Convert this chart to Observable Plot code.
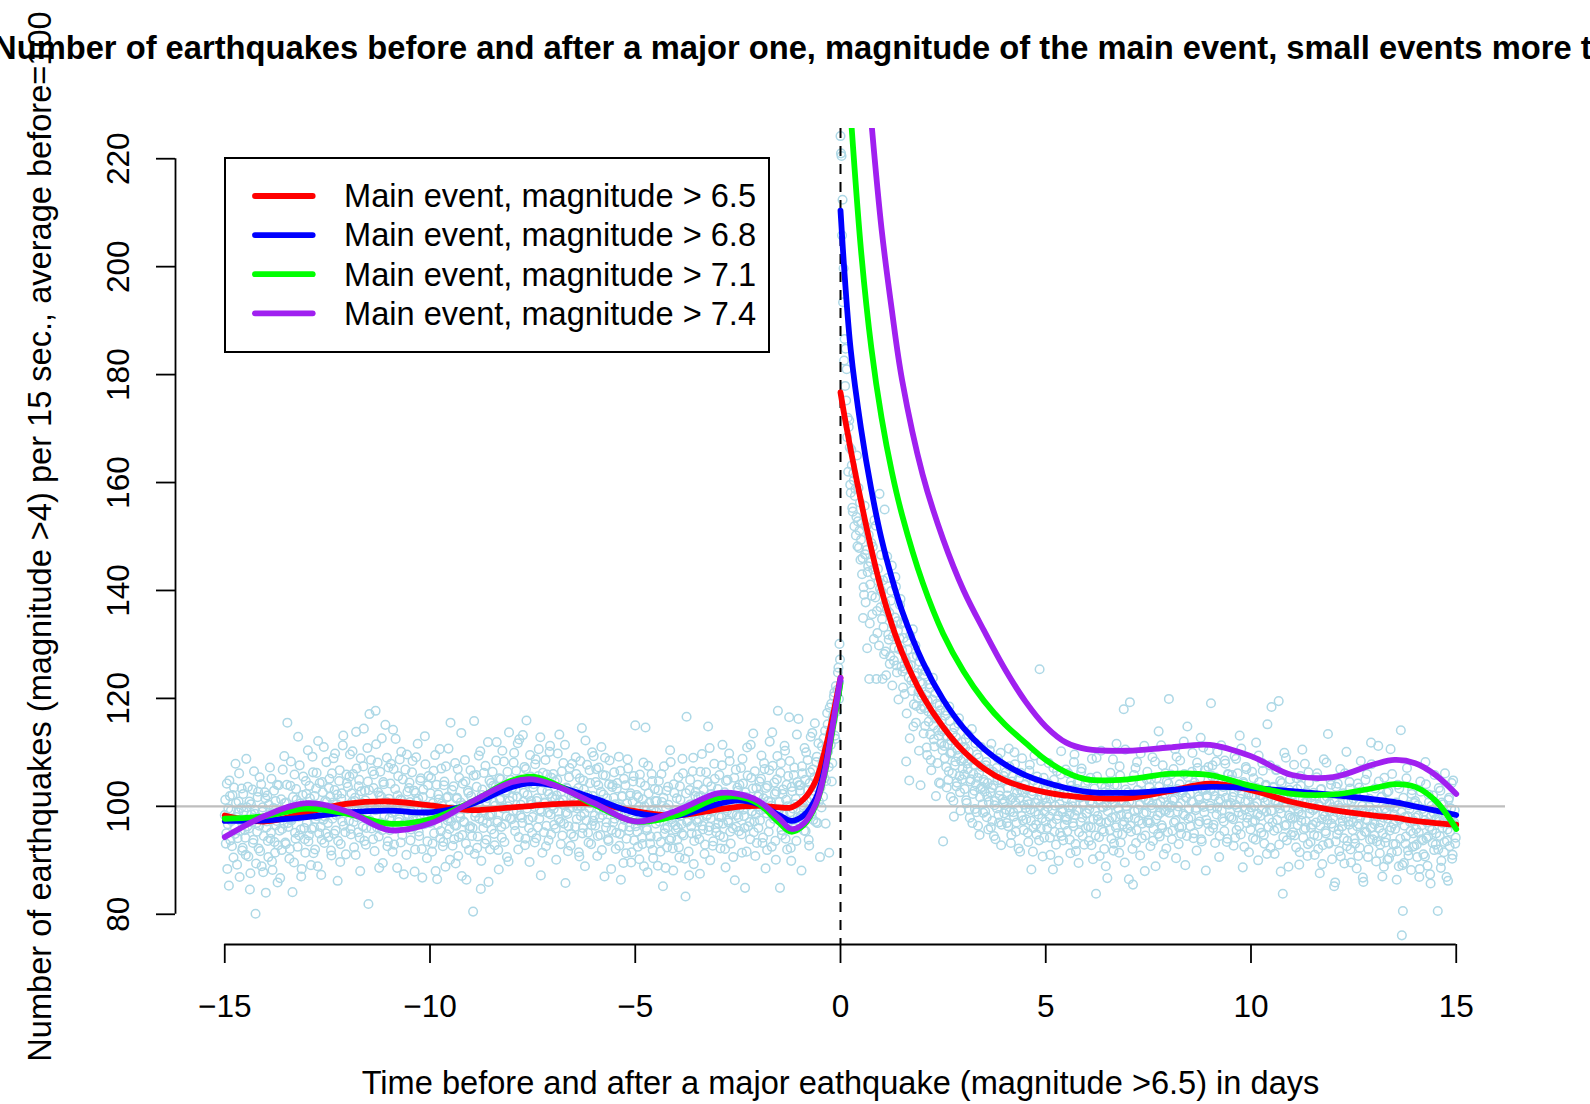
<!DOCTYPE html>
<html>
<head>
<meta charset="utf-8">
<script src="https://cdn.jsdelivr.net/npm/d3@7"></script>
<script src="https://cdn.jsdelivr.net/npm/@observablehq/plot@0.6"></script>
<style>
  html, body { margin: 0; padding: 0; background: #fff; }
  #page { position: relative; width: 1590px; height: 1104px; overflow: hidden; background: #fff;
          font-family: "Liberation Sans", Arial, Helvetica, sans-serif; color: #000; }
  #title { position: absolute; top: 0; left: 0; width: 1590px; height: 96px; }
  #title span { position: absolute; top: 31px; left: 835px; transform: translateX(-50%);
                white-space: nowrap; font-weight: bold; font-size: 32.7px; line-height: 33px; }
  #chart { position: absolute; top: 96px; left: 0; }
  #legend { position: absolute; left: 224px; top: 157px; }
</style>
</head>
<body>
<div id="page">
  <div id="title"><span></span></div>
  <div id="chart"></div>
  <div id="legend"></div>
</div>
<script>
// ---- Texts ----
const titleText = "Number of earthquakes before and after a major one, magnitude of the main event, small events more than 4";
const xTitle = "Time before and after a major eathquake (magnitude >6.5) in days";
const yTitle = "Number of earthquakes (magnitude >4) per 15 sec., average before=100";

// ---- Axes ----
const xTicks = [-15, -10, -5, 0, 5, 10, 15];
const yTicks = [80, 100, 120, 140, 160, 180, 200, 220];

// ---- Series ----
const seriesLabels = [
  "Main event, magnitude > 6.5",
  "Main event, magnitude > 6.8",
  "Main event, magnitude > 7.1",
  "Main event, magnitude > 7.4"
];
const seriesColors = ["#FF0000", "#0000FF", "#00FF00", "#A020F0"];

// Smoothed fits before the main event (days -15 .. 0)
const knotDaysBefore = [-15, -14, -13, -12, -11, -10, -9, -8, -7.5, -7, -6, -5, -4, -3, -2.5, -2, -1.5, -1.2, -0.9, -0.6, -0.4, -0.2, 0];
const fitBefore65 = [98.3, 97.2, 98.9, 100.5, 100.9, 100.2, 99.3, 99.8, 100.1, 100.4, 100.5, 99.1, 98.3, 99.4, 99.9, 100.1, 99.8, 99.8, 101.3, 104.8, 109.8, 116.3, 123.8];
const fitBefore68 = [97.3, 97.4, 98.0, 98.9, 99.2, 98.9, 100.4, 103.6, 104.3, 103.9, 101.5, 98.8, 98.2, 100.4, 101.1, 100.4, 98.4, 97.3, 98.3, 101.5, 106.5, 114.5, 123.2];
const fitBefore71 = [97.7, 98.2, 99.6, 98.6, 96.8, 97.6, 100.8, 104.8, 105.5, 104.3, 100.3, 97.2, 98.3, 101.5, 101.8, 100.5, 97.0, 95.3, 96.5, 100.3, 105.5, 113.8, 122.8];
const fitBefore74 = [94.3, 98.3, 100.6, 99.0, 95.6, 96.8, 100.8, 104.5, 105.0, 104.0, 100.6, 97.2, 99.2, 102.4, 102.3, 101.0, 97.8, 95.8, 96.8, 100.5, 105.8, 114.5, 123.8];

// Smoothed fits after the main event (days 0 .. 15); the steepest ones start above the plotted range
const knotDaysAfter = [0, 0.1, 0.25, 0.5, 0.75, 1, 1.25, 1.5, 2, 2.5, 3, 3.5, 4, 4.5, 5, 5.5, 6, 7, 8, 9, 10, 11, 12, 13, 13.5, 14, 14.5, 15];
const fitAfter65 = [176.7, 172.2, 166.0, 156.5, 147.7, 140.0, 133.7, 128.5, 120.5, 114.7, 110.2, 107.0, 104.8, 103.5, 102.6, 102.0, 101.6, 101.5, 102.8, 104.2, 103.0, 100.8, 99.3, 98.3, 97.9, 97.3, 96.9, 96.6];
const fitAfter68 = [210.4, 198.5, 184.5, 170.0, 158.7, 149.5, 142.3, 136.2, 126.8, 119.8, 114.5, 110.6, 107.8, 105.8, 104.4, 103.4, 102.7, 102.5, 103.0, 103.6, 103.4, 102.8, 102.1, 101.3, 100.8, 100.0, 99.2, 98.4];
const fitAfter71 = [256, 244, 228, 203, 185, 172, 162, 154, 141.5, 132, 125, 119.5, 115.2, 111.8, 108.6, 106.3, 105.0, 105.0, 106.0, 105.8, 103.8, 102.3, 102.2, 103.4, 104.1, 103.6, 101.0, 95.8];
const fitAfter74 = [315, 300, 280, 250, 227, 207, 192, 179, 161.5, 149.5, 140, 132.5, 125.5, 119.5, 114.8, 111.8, 110.6, 110.3, 110.9, 111.4, 109.3, 105.8, 105.4, 107.8, 108.6, 108.0, 105.8, 102.3];

// ---- Observed counts per time bin ----
const binWidth = 0.025; // days between bins of one set; the "Mid" sets sit half a bin later
// Bins from day -15 up to the main event
const countsBefore = [
  98.4, 93.1, 104.2, 96.7, 85.3, 101.9, 99.2, 92.6, 97.8, 103.5, 94.9, 100.6, 89.2, 98.9, 106.1, 95.4, 99.7, 91.8, 102.3, 97.1,
  94.2, 108.8, 96.3, 90.7, 100.9, 87.6, 98.5, 103.1, 93.8, 99.4, 80.1, 96.9, 101.7, 92.2, 105.4, 97.6, 88.9, 99.8, 94.5, 102.6,
  84.0, 97.2, 93.6, 100.3, 107.2, 95.1, 89.8, 98.7, 102.9, 91.4, 96.5, 104.0, 92.8, 99.1, 86.7, 101.3, 95.8, 97.9, 109.3, 93.3,
  100.7, 115.5, 96.2, 90.3, 103.8, 97.4, 84.1, 99.6, 105.9, 94.0, 101.2, 92.5, 98.1, 107.6, 95.7, 88.4, 102.1, 99.3, 93.9, 104.7,
  97.0, 110.4, 94.6, 101.5, 89.1, 99.9, 106.3, 96.1, 92.0, 103.3, 98.2, 112.1, 95.0, 100.1, 87.3, 104.5, 97.5, 93.2, 101.0, 108.2,
  99.0, 94.3, 105.1, 101.8, 90.9, 97.7, 108.9, 103.0, 95.5, 100.4, 86.2, 98.6, 106.7, 93.0, 102.4, 111.3, 96.4, 99.5, 91.1, 104.3,
  103.6, 97.3, 109.6, 94.8, 100.8, 106.0, 92.4, 101.6, 113.8, 98.0, 95.2, 104.9, 88.0, 102.8, 99.8, 107.4, 93.6, 101.1, 96.0, 110.8,
  81.9, 117.1, 100.2, 95.9, 106.5, 103.4, 91.7, 117.7, 99.4, 108.1, 94.4, 102.0, 97.0, 112.6, 89.5, 104.1, 100.5, 96.6, 109.0, 93.5,
  101.4, 95.6, 107.9, 98.8, 114.2, 92.9, 103.2, 99.6, 88.6, 105.6, 97.6, 101.3, 110.1, 94.7, 100.0, 96.8, 106.8, 91.0, 102.7, 98.3,
  104.4, 93.7, 99.0, 108.4, 96.2, 87.9, 102.5, 100.9, 111.6, 95.3, 98.4, 105.2, 92.1, 101.7, 97.1, 113.0, 99.7, 90.4, 103.9, 96.9,
  98.9, 105.3, 91.6, 100.6, 95.0, 109.5, 97.9, 86.5, 102.2, 99.3, 94.1, 107.0, 100.1, 93.4, 104.6, 88.8, 101.6, 97.4, 110.7, 95.8,
  115.5, 99.5, 92.7, 103.7, 96.5, 89.4, 101.4, 106.9, 94.3, 98.7, 100.7, 87.1, 104.2, 97.2, 108.6, 93.1, 99.9, 102.9, 91.9, 96.3,
  101.9, 94.5, 80.5, 115.8, 98.1, 105.8, 92.3, 100.3, 97.7, 110.2, 89.9, 103.1, 96.0, 99.2, 107.5, 93.8, 101.5, 86.0, 104.8, 98.5,
  95.7, 106.4, 100.8, 92.8, 103.6, 111.9, 97.3, 88.3, 101.2, 105.0, 94.2, 99.6, 108.3, 96.7, 102.6, 90.6, 100.0, 113.7, 97.8, 104.0,
  103.4, 99.1, 109.9, 95.4, 106.6, 101.8, 92.0, 112.4, 98.3, 104.7, 96.9, 100.9, 107.3, 94.0, 115.9, 102.1, 97.5, 89.7, 105.5, 100.4,
  98.0, 104.1, 93.3, 108.7, 101.0, 96.1, 110.6, 99.4, 87.2, 103.0, 106.2, 95.2, 100.6, 92.6, 105.9, 98.8, 102.3, 111.2, 94.8, 101.7,
  106.0, 96.6, 101.3, 90.1, 104.9, 99.0, 113.3, 97.1, 102.7, 94.6, 108.0, 100.2, 85.8, 103.5, 98.6, 96.3, 107.1, 92.7, 101.9, 99.8,
  94.4, 102.8, 109.1, 97.6, 100.1, 91.5, 105.2, 98.2, 114.5, 96.0, 103.1, 88.9, 101.4, 107.7, 95.1, 99.7, 104.3, 93.0, 110.0, 97.3,
  101.0, 96.4, 106.9, 90.8, 103.9, 99.4, 94.7, 111.0, 98.4, 102.2, 87.0, 105.7, 97.0, 100.3, 93.6, 108.5, 99.1, 95.6, 104.0, 101.6,
  97.7, 92.1, 103.3, 99.9, 109.2, 94.9, 86.4, 101.8, 96.2, 105.1, 98.8, 91.3, 100.5, 107.0, 95.5, 102.0, 89.6, 98.1, 104.6, 93.7,
  115.0, 99.2, 95.3, 101.7, 90.2, 104.4, 97.2, 93.0, 108.1, 100.0, 114.6, 96.0, 87.8, 102.4, 98.6, 94.4, 106.0, 91.9, 99.5, 103.2,
  96.8, 101.0, 89.0, 104.7, 97.9, 93.4, 100.8, 85.2, 107.4, 95.8, 99.7, 92.4, 103.6, 98.0, 110.4, 94.1, 97.0, 88.1, 102.5, 96.5,
  99.3, 93.8, 105.4, 90.5, 101.2, 96.7, 108.8, 94.6, 98.9, 83.3, 116.6, 97.4, 91.6, 103.0, 100.4, 95.0, 106.5, 89.3, 99.9, 102.7,
  94.8, 104.0, 97.6, 87.5, 101.9, 109.7, 95.7, 100.2, 92.9, 106.3, 98.5, 114.8, 96.2, 90.0, 103.7, 99.0, 93.5, 107.9, 101.1, 95.2,
  100.7, 96.9, 105.8, 92.2, 98.0, 111.4, 94.3, 102.6, 88.7, 99.6, 104.9, 97.0, 108.4, 93.1, 101.3, 95.9, 100.0, 86.3, 106.8, 98.4,
  102.9, 95.4, 99.8, 107.1, 91.4, 104.2, 98.2, 84.9, 101.7, 110.9, 96.3, 100.5, 93.9, 105.3, 99.1, 113.5, 97.2, 90.8, 103.4, 100.0,
  96.0, 104.6, 99.3, 109.4, 93.2, 101.5, 106.9, 88.5, 98.7, 103.8, 95.3, 112.0, 100.8, 92.5, 107.5, 97.7, 102.3, 90.1, 105.0, 117.7,
  99.4, 84.9, 108.0, 94.7, 103.1, 97.5, 110.3, 101.2, 92.0, 105.6, 116.5, 98.9, 89.9, 102.8, 96.2, 107.2, 100.4, 93.6, 104.5, 116.2,
  97.8, 103.9, 88.1, 106.1, 99.7, 110.8, 95.4, 101.0, 108.6, 93.8, 104.3, 112.9, 98.6, 106.8, 102.0, 115.4, 97.1, 109.2, 103.5, 100.9,
  90.6, 106.3, 111.1, 101.8, 108.9, 114.0, 104.7, 117.3, 110.2, 91.4, 113.6, 119.0, 108.0, 116.8, 121.1, 112.5, 118.9, 121.6, 125.7, 130.1
];
const countsBeforeMid = [
  101.2, 95.0, 88.4, 99.6, 104.8, 93.7, 97.3, 102.1, 90.5, 96.2, 107.9, 98.0, 94.1, 100.9, 86.9, 97.5, 103.3, 92.3, 99.1, 95.6,
  91.0, 99.8, 103.6, 95.9, 84.6, 100.4, 97.0, 93.2, 106.5, 98.6, 89.4, 95.3, 102.7, 96.4, 91.7, 104.1, 99.0, 87.8, 97.7, 101.5,
  96.1, 102.0, 90.6, 98.4, 94.0, 105.1, 88.2, 99.7, 93.4, 101.0, 97.3, 85.9, 103.9, 95.5, 99.2, 91.9, 106.8, 96.8, 100.6, 93.0,
  104.0, 96.9, 99.5, 92.1, 108.3, 97.8, 101.7, 89.6, 95.1, 103.2, 98.7, 112.9, 94.6, 100.5, 87.0, 99.4, 105.5, 96.0, 91.4, 102.3,
  98.5, 93.5, 103.8, 100.2, 95.8, 109.2, 91.3, 101.9, 97.6, 106.2, 88.9, 99.8, 104.3, 96.2, 93.8, 102.6, 111.0, 98.1, 95.0, 100.8,
  96.9, 103.4, 99.9, 91.8, 106.1, 100.7, 94.9, 109.8, 98.4, 102.2, 93.6, 104.7, 89.7, 101.4, 97.2, 113.1, 99.4, 95.2, 105.9, 100.2,
  99.6, 105.5, 95.8, 102.4, 110.2, 97.1, 101.0, 91.0, 107.0, 99.1, 103.7, 94.2, 108.9, 100.6, 96.3, 114.4, 102.9, 92.9, 98.8, 104.6,
  103.0, 97.4, 108.6, 100.0, 93.9, 105.9, 99.3, 111.5, 96.1, 102.6, 88.6, 106.4, 101.8, 95.6, 104.5, 98.2, 115.1, 100.8, 92.6, 107.2,
  97.8, 104.2, 100.4, 91.6, 106.9, 99.0, 112.5, 95.9, 102.0, 97.1, 108.7, 93.3, 101.1, 105.0, 87.4, 100.3, 96.5, 109.6, 98.6, 103.4,
  100.8, 95.7, 106.3, 98.2, 102.9, 92.0, 109.1, 97.5, 101.4, 94.5, 104.8, 99.2, 86.8, 103.1, 96.7, 107.8, 100.0, 93.5, 105.6, 98.9,
  102.4, 97.0, 93.1, 106.6, 99.8, 88.0, 104.0, 96.6, 101.3, 110.6, 95.4, 100.5, 92.6, 103.9, 98.1, 107.4, 94.8, 101.8, 97.8, 90.1,
  97.2, 103.0, 99.1, 93.9, 108.0, 96.4, 101.6, 90.8, 105.3, 98.0, 113.6, 94.7, 100.2, 97.0, 104.6, 86.4, 99.5, 102.5, 95.9, 106.7,
  100.5, 96.0, 105.7, 91.2, 98.8, 103.6, 94.4, 109.4, 99.9, 84.7, 102.1, 97.3, 106.2, 93.1, 100.8, 96.9, 111.9, 98.2, 92.0, 104.3,
  98.6, 103.8, 94.9, 100.1, 108.5, 97.0, 91.9, 105.2, 101.5, 96.2, 110.3, 99.7, 93.4, 102.9, 98.1, 106.4, 89.8, 101.0, 104.9, 97.6,
  101.7, 108.1, 96.5, 103.0, 99.2, 111.7, 94.3, 105.0, 100.3, 97.9, 113.2, 102.5, 92.8, 106.9, 99.6, 104.2, 96.0, 109.5, 101.0, 95.1,
  103.5, 99.9, 107.8, 94.1, 101.5, 105.6, 97.7, 112.8, 99.0, 91.4, 104.4, 100.7, 108.6, 96.4, 102.8, 93.7, 110.1, 98.5, 105.3, 100.1,
  99.5, 104.6, 95.9, 102.0, 109.8, 97.6, 100.8, 93.0, 106.5, 101.2, 96.8, 111.4, 98.9, 103.3, 91.7, 105.4, 99.7, 94.9, 107.9, 102.4,
  101.3, 96.2, 106.0, 99.6, 103.4, 90.7, 108.4, 100.0, 95.0, 104.8, 98.7, 112.2, 97.4, 102.1, 93.3, 106.7, 100.6, 96.5, 101.9, 109.3,
  98.3, 104.5, 100.9, 94.5, 107.2, 97.9, 102.7, 91.9, 105.8, 99.3, 109.0, 96.1, 101.5, 93.9, 104.1, 100.2, 88.4, 103.6, 97.0, 106.3,
  100.4, 95.1, 104.3, 98.5, 92.7, 106.6, 99.8, 101.9, 89.5, 97.5, 103.9, 94.0, 108.7, 99.1, 96.2, 102.4, 91.5, 100.9, 105.6, 97.4,
  96.3, 102.1, 92.5, 99.9, 105.9, 97.0, 94.2, 101.3, 88.9, 103.8, 98.4, 95.6, 107.5, 100.6, 93.1, 99.2, 104.7, 90.4, 97.8, 101.0,
  99.0, 94.4, 103.0, 97.2, 91.6, 106.0, 98.4, 101.6, 95.0, 88.6, 102.9, 96.1, 100.3, 93.7, 108.2, 97.6, 92.2, 104.1, 99.3, 95.7,
  101.5, 96.0, 92.4, 103.7, 98.2, 94.9, 106.1, 99.5, 90.3, 102.4, 97.1, 100.0, 87.2, 104.9, 96.3, 98.8, 109.0, 93.6, 101.9, 97.5,
  97.1, 101.7, 93.9, 106.4, 99.0, 96.4, 103.1, 91.2, 100.6, 98.2, 104.5, 95.5, 110.8, 97.8, 102.3, 92.7, 99.6, 105.1, 96.0, 100.9,
  103.2, 98.1, 94.6, 101.1, 107.6, 96.8, 100.4, 92.1, 104.7, 99.2, 97.4, 109.8, 95.3, 102.0, 98.6, 90.6, 105.3, 100.8, 96.2, 103.5,
  98.0, 104.0, 100.9, 94.8, 108.8, 99.4, 96.0, 102.6, 91.6, 105.7, 100.2, 97.1, 111.4, 99.0, 103.3, 95.2, 106.5, 98.5, 93.2, 101.8,
  102.2, 97.4, 105.1, 100.6, 94.2, 108.0, 99.5, 103.4, 91.9, 101.0, 106.7, 96.8, 100.1, 113.7, 98.2, 104.4, 93.6, 102.7, 109.3, 99.0,
  100.8, 106.2, 95.6, 102.3, 98.5, 111.2, 94.0, 104.0, 100.0, 97.2, 108.4, 92.3, 103.6, 99.6, 105.8, 96.0, 101.4, 113.3, 98.0, 103.9,
  102.9, 98.3, 107.4, 100.2, 95.5, 104.9, 110.0, 99.0, 103.0, 92.7, 106.3, 101.4, 113.6, 97.5, 105.4, 100.5, 108.2, 96.9, 111.7, 104.0,
  103.5, 99.8, 108.1, 112.6, 105.2, 96.8, 110.7, 115.2, 107.3, 118.3, 111.4, 104.6, 116.0, 120.4, 113.1, 122.3, 117.6, 124.8, 119.9, 127.2
];
// Bins from the main event up to day 15
const countsAfter = [
  224.2, 220.5, 212.4, 199.7, 186.6, 184.8, 181.0, 172.0, 170.3, 166.5, 158.1, 163.2, 154.6, 160.4, 157.5, 150.2, 165.0, 152.8, 147.9, 156.3,
  149.4, 143.0, 134.9, 139.2, 146.7, 151.8, 129.3, 144.5, 123.6, 141.1, 148.8, 135.6, 143.9, 153.0, 138.7, 123.6, 132.1, 141.7, 157.9, 136.9,
  139.8, 123.6, 133.2, 155.0, 128.7, 136.5, 142.3, 130.9, 126.4, 138.1, 144.6, 131.5, 127.0, 135.0, 140.7, 124.8, 132.6, 129.1, 137.3, 133.8,
  128.9, 122.0, 134.1, 125.5, 108.3, 130.6, 126.0, 104.8, 131.7, 123.3, 127.6, 114.8, 122.9, 129.8, 118.6, 124.7, 121.2, 126.8, 103.9, 120.5,
  122.7, 113.5, 118.2, 125.1, 110.9, 119.6, 115.7, 121.9, 108.6, 117.0, 123.8, 112.4, 116.3, 101.9, 119.0, 114.1, 104.4, 117.8, 111.6, 113.9,
  93.5, 111.2, 116.8, 107.3, 113.0, 104.9, 118.5, 109.8, 112.2, 106.1, 101.0, 114.6, 108.3, 103.7, 110.5, 115.3, 105.6, 99.2, 111.9, 107.0,
  108.8, 103.2, 112.5, 100.6, 106.9, 110.1, 97.9, 105.0, 114.3, 102.3, 107.7, 99.5, 104.1, 109.6, 96.4, 106.2, 101.7, 111.0, 103.6, 98.8,
  104.5, 99.1, 108.2, 101.8, 95.7, 106.9, 102.6, 111.6, 97.3, 103.9, 100.2, 93.9, 107.1, 104.8, 98.4, 102.0, 109.9, 96.6, 101.3, 105.6,
  100.9, 106.3, 96.9, 103.4, 110.7, 99.0, 93.2, 104.6, 101.6, 98.1, 107.8, 95.3, 102.5, 99.7, 105.2, 91.6, 103.0, 108.9, 97.4, 100.3,
  104.1, 97.6, 101.0, 93.4, 106.6, 99.4, 88.3, 102.8, 96.0, 109.4, 100.6, 94.8, 103.7, 98.5, 125.4, 95.9, 101.9, 90.7, 105.3, 99.0,
  97.2, 103.3, 99.9, 108.0, 94.2, 101.4, 96.8, 88.3, 104.9, 100.1, 92.9, 106.5, 98.3, 102.7, 95.1, 110.2, 99.5, 93.7, 103.0, 97.9,
  101.5, 95.4, 106.1, 98.6, 91.3, 103.8, 100.0, 96.3, 109.6, 93.0, 99.2, 104.4, 89.5, 101.8, 97.1, 107.0, 94.5, 100.7, 102.9, 96.0,
  98.7, 104.7, 93.6, 100.9, 96.1, 108.8, 90.2, 102.0, 99.1, 83.8, 105.5, 97.5, 94.3, 101.2, 110.3, 95.7, 99.8, 92.1, 103.5, 97.0,
  86.7, 102.4, 97.3, 106.2, 94.0, 100.3, 91.8, 104.0, 98.0, 111.6, 95.0, 99.6, 107.4, 93.3, 101.0, 96.6, 118.0, 89.6, 103.1, 98.5,
  102.6, 86.5, 119.3, 95.3, 100.6, 85.5, 105.8, 97.8, 93.2, 108.2, 99.4, 102.1, 90.9, 104.3, 96.8, 101.7, 111.2, 94.6, 98.9, 106.4,
  97.4, 103.6, 92.6, 100.2, 109.1, 95.8, 101.9, 88.9, 105.2, 98.3, 113.9, 94.4, 100.8, 96.5, 107.6, 91.1, 102.3, 99.1, 104.7, 95.2,
  119.9, 99.8, 105.9, 93.9, 101.1, 97.0, 110.6, 90.4, 103.2, 100.0, 96.1, 108.5, 94.9, 102.5, 98.6, 106.0, 89.1, 101.6, 114.8, 97.7,
  103.9, 96.3, 100.9, 109.9, 94.1, 104.4, 99.3, 91.8, 107.1, 101.8, 97.2, 112.7, 93.5, 103.0, 99.9, 106.7, 88.1, 102.0, 96.8, 110.4,
  100.1, 119.1, 105.6, 96.0, 102.8, 93.2, 108.3, 99.7, 104.6, 90.6, 101.3, 111.3, 97.8, 103.6, 95.4, 107.9, 100.4, 94.0, 105.9, 98.1,
  104.9, 97.9, 101.7, 92.7, 109.3, 100.3, 95.6, 106.1, 98.9, 113.1, 94.8, 102.4, 88.7, 104.2, 99.4, 107.3, 96.9, 101.0, 91.5, 103.3,
  99.8, 106.4, 94.1, 102.1, 97.4, 111.8, 100.7, 90.0, 104.5, 98.2, 95.1, 108.0, 101.6, 93.1, 103.8, 99.0, 115.2, 96.2, 102.8, 92.3,
  118.4, 97.0, 103.5, 91.2, 100.8, 106.8, 95.9, 119.5, 99.6, 87.9, 104.3, 83.8, 101.4, 96.4, 109.0, 93.7, 102.2, 98.3, 105.0, 94.7,
  101.1, 95.2, 107.7, 98.0, 92.4, 103.2, 99.5, 89.2, 105.6, 97.3, 110.5, 94.2, 100.6, 96.0, 102.6, 90.8, 106.3, 98.7, 93.4, 101.7,
  96.6, 102.5, 91.0, 99.7, 105.4, 94.5, 100.3, 87.6, 103.1, 97.6, 92.8, 108.7, 98.2, 95.0, 101.8, 113.4, 93.1, 99.0, 104.0, 90.2,
  97.9, 85.2, 85.9, 103.6, 94.8, 100.2, 91.7, 106.9, 98.4, 96.3, 102.4, 89.4, 99.6, 110.1, 93.6, 97.2, 104.5, 92.0, 100.9, 95.6,
  101.4, 94.0, 98.8, 88.5, 104.2, 96.7, 92.3, 108.4, 99.3, 86.8, 102.0, 95.3, 97.6, 106.0, 90.6, 100.0, 93.8, 111.8, 96.1, 98.7,
  94.6, 103.3, 89.8, 99.1, 111.2, 96.0, 92.9, 101.7, 87.0, 97.9, 105.3, 93.3, 98.9, 90.1, 102.8, 95.5, 110.6, 91.4, 100.5, 96.8,
  99.7, 93.0, 86.4, 104.0, 88.9, 97.5, 114.1, 76.1, 80.6, 89.5, 98.0, 94.4, 107.1, 91.8, 100.2, 97.1, 88.2, 103.0, 95.0, 92.6,
  101.0, 95.8, 90.6, 98.3, 86.9, 104.6, 93.9, 99.5, 91.1, 97.4, 108.2, 94.1, 89.0, 102.2, 96.2, 85.7, 100.1, 93.2, 98.8, 105.8,
  92.9, 97.7, 80.6, 103.4, 94.5, 88.6, 100.7, 96.9, 91.5, 106.1, 98.1, 93.6, 86.2, 101.6, 95.3, 99.6, 90.3, 104.8, 97.0, 93.1
];
const countsAfterMid = [
  221.0, 205.8, 193.4, 182.6, 177.9, 175.2, 168.4, 162.0, 171.5, 159.6, 166.1, 155.3, 161.7, 151.9, 158.8, 153.6, 148.2, 159.0, 151.1, 145.7,
  152.4, 146.0, 140.6, 155.7, 137.8, 147.5, 143.4, 150.3, 133.9, 145.2, 139.0, 148.1, 131.0, 142.8, 152.0, 136.2, 144.0, 129.8, 140.3, 146.6,
  134.7, 141.9, 128.2, 137.6, 124.3, 146.3, 131.8, 135.9, 127.8, 139.9, 122.4, 133.6, 129.4, 142.5, 126.1, 134.3, 119.8, 131.1, 138.4, 125.9,
  125.0, 131.2, 120.8, 127.3, 117.2, 129.0, 123.9, 112.6, 126.2, 121.4, 132.8, 118.9, 124.2, 115.5, 127.9, 120.1, 110.3, 123.0, 118.0, 125.4,
  118.6, 124.4, 114.9, 120.7, 109.5, 117.6, 122.6, 113.3, 106.7, 119.8, 115.0, 111.1, 121.0, 116.9, 108.0, 113.1, 118.7, 104.2, 115.9, 110.4,
  114.2, 108.9, 117.7, 103.5, 111.5, 106.5, 115.8, 101.7, 110.0, 113.6, 98.1, 107.6, 112.8, 104.4, 109.3, 116.3, 102.6, 108.4, 105.0, 111.0,
  105.9, 110.9, 101.1, 107.9, 113.3, 99.4, 104.6, 108.6, 96.9, 106.0, 102.9, 111.7, 98.9, 105.3, 109.0, 94.7, 103.3, 107.3, 100.4, 104.9,
  102.7, 107.6, 98.0, 104.3, 100.8, 110.4, 96.1, 103.4, 106.4, 94.5, 101.0, 105.9, 99.6, 108.9, 97.0, 102.9, 92.8, 104.7, 100.5, 98.7,
  104.8, 99.4, 102.0, 96.3, 107.4, 101.2, 94.7, 105.6, 98.9, 110.0, 100.7, 97.0, 103.8, 92.2, 101.5, 106.2, 98.2, 102.6, 95.6, 104.0,
  99.7, 103.1, 95.1, 100.4, 107.7, 97.3, 102.2, 91.6, 104.8, 99.0, 96.6, 105.5, 101.2, 93.7, 100.0, 108.4, 97.8, 103.4, 94.2, 101.6,
  100.7, 96.0, 104.2, 98.1, 91.0, 102.9, 99.2, 107.1, 95.3, 101.8, 97.6, 103.6, 89.9, 100.4, 105.9, 94.5, 99.0, 102.3, 96.6, 106.8,
  97.5, 102.7, 99.8, 93.8, 104.6, 100.9, 96.9, 108.2, 98.4, 91.7, 103.2, 99.3, 95.2, 101.6, 106.4, 97.9, 100.3, 92.9, 104.1, 98.7,
  101.9, 96.3, 99.5, 105.3, 92.8, 100.5, 97.6, 103.3, 94.6, 109.0, 98.2, 101.1, 90.8, 97.1, 104.0, 99.9, 95.3, 102.6, 88.9, 100.1,
  99.1, 104.5, 95.6, 101.3, 97.9, 108.7, 93.1, 100.6, 96.1, 103.9, 99.7, 91.4, 105.7, 98.4, 94.8, 102.0, 97.2, 110.5, 100.0, 95.9,
  98.0, 100.9, 96.4, 104.8, 92.1, 101.9, 99.1, 107.1, 95.6, 103.0, 97.3, 100.3, 109.8, 94.1, 102.4, 98.7, 88.0, 101.2, 105.0, 97.0,
  101.0, 96.9, 105.0, 99.7, 93.6, 102.7, 108.3, 97.6, 100.5, 94.9, 103.6, 98.8, 111.3, 96.0, 101.5, 99.3, 106.1, 92.2, 100.2, 104.2,
  98.8, 103.0, 100.1, 95.5, 106.9, 101.4, 97.3, 109.2, 99.0, 93.0, 104.1, 100.6, 96.2, 102.9, 112.0, 98.3, 101.7, 94.5, 105.4, 99.5,
  102.3, 98.0, 106.4, 100.8, 95.0, 103.8, 99.7, 108.1, 96.7, 101.3, 105.2, 93.9, 100.2, 110.9, 98.9, 103.1, 97.5, 101.9, 107.3, 95.4,
  103.0, 99.6, 107.6, 96.6, 101.9, 105.4, 98.5, 110.1, 100.9, 94.5, 104.3, 99.2, 102.7, 97.2, 108.5, 101.6, 93.4, 106.0, 100.3, 103.8,
  100.6, 105.8, 97.6, 102.6, 94.2, 108.8, 99.8, 103.4, 96.3, 101.4, 110.7, 98.4, 104.5, 92.5, 100.9, 106.9, 97.9, 102.2, 99.0, 95.7,
  101.8, 97.1, 105.2, 100.0, 93.8, 103.4, 98.6, 109.4, 96.0, 102.0, 99.4, 106.6, 94.7, 100.8, 104.0, 91.2, 101.1, 97.7, 107.6, 99.2,
  99.2, 103.6, 95.5, 101.1, 106.7, 97.5, 100.4, 92.9, 104.7, 98.7, 102.9, 94.3, 109.9, 99.8, 96.6, 101.9, 88.8, 103.0, 97.9, 100.6,
  97.7, 102.2, 94.6, 100.1, 105.2, 96.5, 99.0, 91.5, 103.8, 98.5, 101.3, 95.7, 107.9, 97.2, 100.9, 93.0, 104.4, 99.6, 96.0, 102.0,
  99.3, 94.7, 101.9, 97.0, 106.1, 92.1, 100.0, 96.4, 103.2, 89.3, 98.6, 101.3, 95.4, 108.1, 97.5, 93.2, 100.6, 104.9, 96.8, 99.8,
  96.1, 100.8, 93.5, 98.9, 104.2, 95.6, 99.7, 90.7, 102.0, 97.3, 94.1, 106.1, 98.0, 92.6, 101.1, 96.6, 103.3, 89.6, 99.4, 97.1,
  98.5, 93.1, 101.9, 96.3, 90.8, 103.5, 97.9, 94.6, 100.1, 86.0, 99.0, 104.9, 95.2, 97.4, 92.0, 101.4, 96.0, 107.8, 93.9, 99.2,
  96.7, 100.9, 93.5, 98.1, 104.6, 91.3, 97.0, 101.8, 95.0, 88.8, 99.6, 94.2, 102.6, 97.7, 90.4, 100.0, 96.1, 106.0, 93.0, 98.5,
  95.8, 100.7, 91.7, 97.8, 103.3, 94.0, 98.9, 89.1, 101.6, 96.4, 93.1, 105.2, 98.2, 90.9, 99.5, 95.4, 102.3, 92.5, 97.3, 100.6,
  97.9, 92.9, 100.2, 95.1, 88.4, 102.7, 96.5, 93.7, 99.0, 90.7, 104.1, 97.0, 94.4, 100.8, 87.4, 98.1, 95.6, 102.0, 91.9, 97.6,
  95.0, 99.8, 92.0, 97.2, 102.9, 89.9, 96.0, 100.4, 93.4, 98.7, 86.9, 95.7, 101.2, 92.6, 97.9, 104.3, 91.0, 96.6, 99.3, 94.2
];

// ---- Tables for the marks ----
const pointRows = [
  ...countsBefore.map((count, i) => ({day: -15 + i * binWidth, count})),
  ...countsBeforeMid.map((count, i) => ({day: -15 + (i + 0.5) * binWidth, count})),
  ...countsAfter.map((count, i) => ({day: i * binWidth, count})),
  ...countsAfterMid.map((count, i) => ({day: (i + 0.5) * binWidth, count}))
];

const fitsBefore = [fitBefore65, fitBefore68, fitBefore71, fitBefore74];
const fitsAfter = [fitAfter65, fitAfter68, fitAfter71, fitAfter74];
const curveRows = [];
seriesLabels.forEach((label, s) => {
  knotDaysBefore.forEach((day, i) => curveRows.push({series: label, segment: label + " / before", day, value: fitsBefore[s][i]}));
  knotDaysAfter.forEach((day, i) => curveRows.push({series: label, segment: label + " / after", day, value: fitsAfter[s][i]}));
});

// ---- Chart ----
const fontFamily = '"Liberation Sans", Arial, Helvetica, sans-serif';
const tickFont = 31.6;
const labelFont = 32.6;
const legendFont = 32.6;
const xDomain = [-16.2, 16.2];   // 4% padding round the -15..15 range
const yDomain = [74.4, 225.6];   // 4% padding round the 80..220 range

document.querySelector("#title span").textContent = titleText;

const chart = Plot.plot({
  width: 1590,
  height: 1008,
  marginLeft: 175,
  marginRight: 85,
  marginTop: 32,
  marginBottom: 160,
  x: {domain: xDomain},
  y: {domain: yDomain},
  color: {domain: seriesLabels, range: seriesColors},
  style: {fontFamily, fontSize: tickFont + "px", background: "transparent", overflow: "visible", color: "#000"},
  marks: [
    Plot.dot(pointRows, {x: "day", y: "count", r: 4.3, stroke: "#ADD8E6", strokeWidth: 1.5, fill: "none"}),
    Plot.ruleY([100], {stroke: "#BEBEBE", strokeWidth: 2.4}),
    Plot.ruleX([0], {stroke: "#000", strokeWidth: 2, strokeDasharray: "10,8"}),
    Plot.line(curveRows, {
      x: "day", y: "value", z: "segment", stroke: "series",
      strokeWidth: 5.8, curve: "catmull-rom", clip: true
    }),
    // axis lines spanning the first to the last tick
    Plot.ruleY([yDomain[0]], {x1: xTicks[0], x2: xTicks[xTicks.length - 1], stroke: "#000", strokeWidth: 1.8}),
    Plot.ruleX([xDomain[0]], {y1: yTicks[0], y2: yTicks[yTicks.length - 1], stroke: "#000", strokeWidth: 1.8}),
    Plot.axisX(xTicks, {tickSize: 19, tickPadding: 31, label: null, fontSize: tickFont, strokeWidth: 1.8}),
    Plot.axisY(yTicks, {tickSize: 19, tickFormat: () => "", label: null, strokeWidth: 1.8}),
    // y tick labels, parallel to the axis
    Plot.text(yTicks, {
      y: (d) => d, text: (d) => String(d), frameAnchor: "left", dx: -47,
      rotate: -90, textAnchor: "middle", lineAnchor: "bottom", fontSize: tickFont
    }),
    // axis titles
    Plot.text([yTitle], {
      text: (d) => d, frameAnchor: "left", dx: -124.3,
      rotate: -90, textAnchor: "middle", lineAnchor: "bottom", fontSize: labelFont
    }),
    Plot.text([xTitle], {
      text: (d) => d, frameAnchor: "bottom", dy: 149.3, lineAnchor: "bottom", fontSize: labelFont
    })
  ]
});
document.getElementById("chart").appendChild(chart);

// ---- Legend box ----
const legendW = 546, legendH = 196;
const legend = d3.select("#legend").append("svg")
  .attr("width", legendW).attr("height", legendH)
  .style("display", "block");
legend.append("rect")
  .attr("x", 1).attr("y", 1).attr("width", legendW - 2).attr("height", legendH - 2)
  .attr("fill", "#fff").attr("stroke", "#000").attr("stroke-width", 2);
seriesLabels.forEach((label, i) => {
  const cy = 39 + i * 39.1;
  legend.append("line")
    .attr("x1", 31).attr("x2", 88.7).attr("y1", cy).attr("y2", cy)
    .attr("stroke", seriesColors[i]).attr("stroke-width", 5.8).attr("stroke-linecap", "round");
  legend.append("text")
    .attr("x", 120).attr("y", cy + 11.3)
    .attr("font-family", fontFamily).attr("font-size", legendFont)
    .attr("fill", "#000")
    .text(label);
});
</script>
</body>
</html>
